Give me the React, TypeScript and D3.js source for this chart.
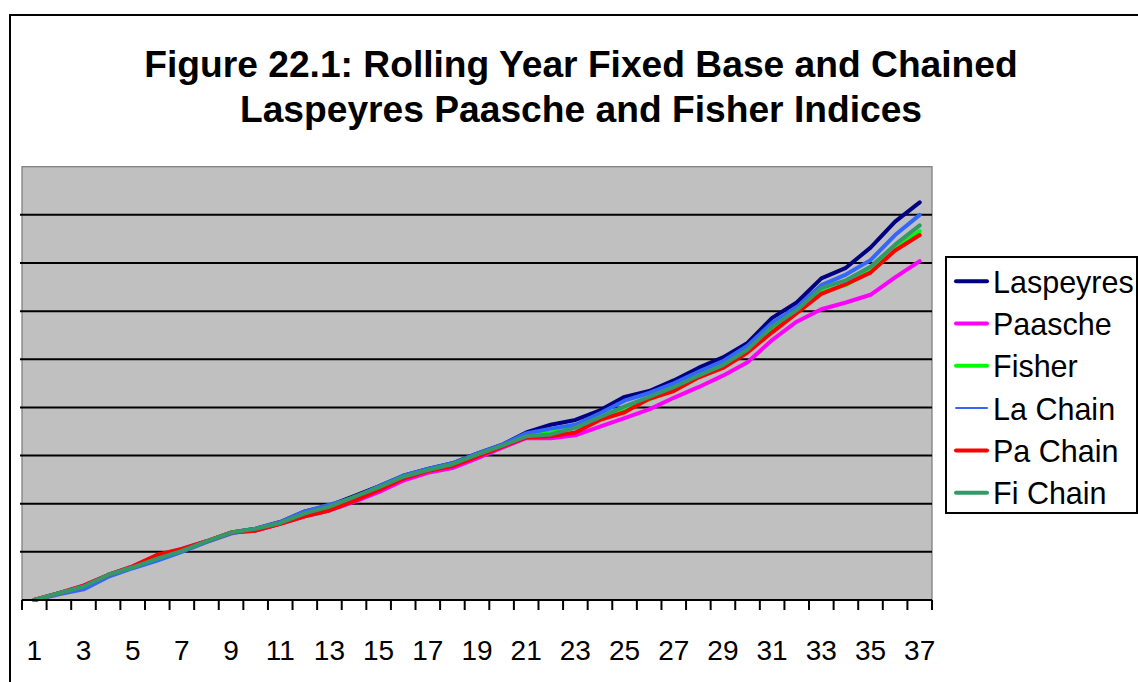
import * as d3 from "d3";

// rolling year index values, periods 1..37
const periods = d3.range(1, 38);
const xLabels = periods.filter((p) => p % 2 === 1);

const laspeyres = [1.000, 1.007, 1.014, 1.026, 1.034, 1.043, 1.051, 1.061, 1.070, 1.074, 1.081, 1.092, 1.098, 1.108, 1.118, 1.129, 1.136, 1.142, 1.152, 1.161, 1.174, 1.182, 1.187, 1.197, 1.211, 1.217, 1.228, 1.241, 1.252, 1.267, 1.293, 1.309, 1.334, 1.345, 1.366, 1.393, 1.413];
const paasche = [1.000, 1.007, 1.015, 1.026, 1.035, 1.046, 1.053, 1.061, 1.070, 1.072, 1.079, 1.087, 1.093, 1.102, 1.112, 1.124, 1.132, 1.137, 1.147, 1.158, 1.168, 1.168, 1.171, 1.180, 1.189, 1.198, 1.210, 1.221, 1.233, 1.247, 1.270, 1.289, 1.302, 1.309, 1.317, 1.335, 1.352];
const fisher = [1.000, 1.007, 1.014, 1.026, 1.034, 1.044, 1.051, 1.061, 1.070, 1.073, 1.080, 1.089, 1.095, 1.105, 1.116, 1.127, 1.134, 1.140, 1.150, 1.160, 1.171, 1.174, 1.179, 1.189, 1.199, 1.208, 1.219, 1.232, 1.242, 1.258, 1.281, 1.299, 1.320, 1.327, 1.342, 1.365, 1.383];
const laChain = [1.000, 1.006, 1.011, 1.024, 1.033, 1.041, 1.050, 1.060, 1.069, 1.074, 1.081, 1.092, 1.099, 1.106, 1.118, 1.129, 1.136, 1.142, 1.152, 1.161, 1.173, 1.178, 1.182, 1.194, 1.207, 1.215, 1.225, 1.237, 1.248, 1.264, 1.288, 1.304, 1.327, 1.338, 1.353, 1.379, 1.400];
const paChain = [1.000, 1.007, 1.015, 1.026, 1.035, 1.047, 1.053, 1.061, 1.070, 1.072, 1.079, 1.087, 1.093, 1.103, 1.114, 1.126, 1.134, 1.139, 1.149, 1.159, 1.169, 1.170, 1.174, 1.187, 1.195, 1.209, 1.217, 1.231, 1.241, 1.257, 1.278, 1.298, 1.318, 1.328, 1.340, 1.363, 1.379];
const fiChain = [1.000, 1.007, 1.014, 1.026, 1.034, 1.043, 1.051, 1.061, 1.070, 1.074, 1.080, 1.090, 1.097, 1.107, 1.117, 1.128, 1.135, 1.141, 1.151, 1.160, 1.170, 1.172, 1.179, 1.190, 1.201, 1.211, 1.221, 1.233, 1.244, 1.260, 1.284, 1.301, 1.324, 1.332, 1.346, 1.369, 1.389];

const series = [
  { name: "Laspeyres", values: laspeyres, color: "#000080", legendWidth: 4 },
  { name: "Paasche", values: paasche, color: "#FF00FF", legendWidth: 4 },
  { name: "Fisher", values: fisher, color: "#00FF00", legendWidth: 4 },
  { name: "La Chain", values: laChain, color: "#3366FF", legendWidth: 2 },
  { name: "Pa Chain", values: paChain, color: "#FF0000", legendWidth: 4 },
  { name: "Fi Chain", values: fiChain, color: "#339966", legendWidth: 4 },
];

const width = 1138;
const height = 682;
const font = "'Liberation Sans', Arial, sans-serif";

const plot = { left: 22, right: 932, top: 166.7, bottom: 600 };

const App = () => {
  const xScale = d3
    .scaleBand<number>()
    .domain(periods)
    .range([plot.left, plot.right])
    .padding(0);
  const bw = xScale.bandwidth();
  const cx = (p: number) => xScale(p)! + bw / 2;

  const yScale = d3.scaleLinear().domain([1, 1.45]).range([plot.bottom, plot.top]);
  const yTicks = yScale.ticks(9);

  const line = d3
    .line<number>()
    .x((_, i) => cx(periods[i]))
    .y((d) => yScale(d));

  const tickXs = [...periods.map((p) => xScale(p)!), plot.right];

  const legend = { x: 946, y: 257, w: 191, h: 256, first: 292.7, step: 42.3 };

  return (
    <svg
      width={width}
      height={height}
      style={{ position: "absolute", left: 0, top: 0, background: "#fff" }}
      fontFamily={font}
    >
      {/* chart area border */}
      <rect x={10} y={15} width={1150} height={700} fill="#fff" stroke="#000" strokeWidth={2} />

      <text x={581} y={77} textAnchor="middle" fontSize={37.2} fontWeight="bold">
        Figure 22.1: Rolling Year Fixed Base and Chained
      </text>
      <text x={581} y={122} textAnchor="middle" fontSize={37.2} fontWeight="bold">
        Laspeyres Paasche and Fisher Indices
      </text>

      {/* plot area */}
      <rect
        x={plot.left}
        y={plot.top}
        width={plot.right - plot.left}
        height={plot.bottom - plot.top}
        fill="#C0C0C0"
        stroke="#808080"
        strokeWidth={1.3}
      />
      {yTicks
        .filter((t) => t > 1 && t < 1.45)
        .map((t) => (
          <line
            key={t}
            x1={plot.left - 2}
            x2={plot.right}
            y1={yScale(t)}
            y2={yScale(t)}
            stroke="#000"
            strokeWidth={2}
          />
        ))}

      {series.map((s) => (
        <path
          key={s.name}
          d={line(s.values)!}
          fill="none"
          stroke={s.color}
          strokeWidth={4}
          strokeLinejoin="round"
          strokeLinecap="round"
        />
      ))}

      {/* x axis */}
      <line x1={plot.left} x2={plot.right} y1={plot.bottom} y2={plot.bottom} stroke="#000" strokeWidth={2} />
      {tickXs.map((x, i) => (
        <line key={i} x1={x} x2={x} y1={plot.bottom} y2={plot.bottom + 10} stroke="#000" strokeWidth={2} />
      ))}
      {xLabels.map((p) => (
        <text key={p} x={cx(p)} y={660} textAnchor="middle" fontSize={28}>
          {p}
        </text>
      ))}

      {/* legend */}
      <rect x={legend.x} y={legend.y} width={legend.w} height={legend.h} fill="#fff" stroke="#000" strokeWidth={2} />
      {series.map((s, i) => {
        const by = legend.first + i * legend.step;
        return (
          <g key={s.name}>
            <line x1={956} x2={987} y1={by - 11.5} y2={by - 11.5} stroke={s.color} strokeWidth={s.legendWidth} strokeLinecap="round" />
            <text x={993} y={by} fontSize={30.5}>
              {s.name}
            </text>
          </g>
        );
      })}
    </svg>
  );
};

export default App;
